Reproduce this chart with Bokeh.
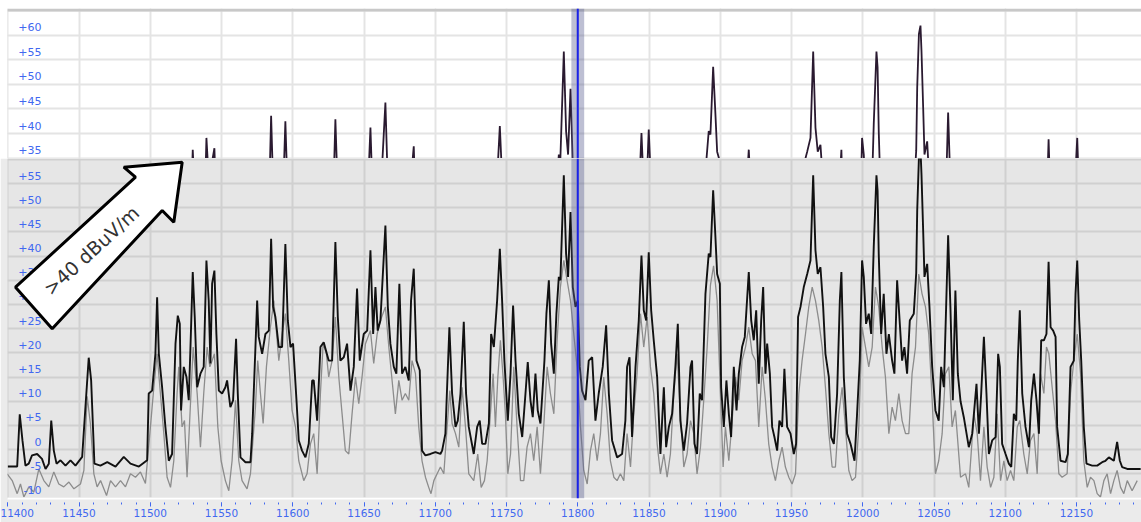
from bokeh.plotting import figure
from bokeh.models import (Range1d, Grid, SingleIntervalTicker, BoxAnnotation, Span,
                          PolyAnnotation, Label, ColumnDataSource)
from bokeh.layouts import column
from bokeh.embed import file_html
from bokeh.resources import INLINE

# ---------------- data (MHz, dBuV/m) ----------------
black_mhz = [11400.0, 11406.6, 11408.4, 11410.3, 11412.4, 11414.7, 11417.0, 11420.6, 11424.0, 11426.5,
             11428.8, 11430.5, 11432.3, 11434.2, 11437.0, 11440.5, 11444.0, 11447.5, 11452.2, 11454.5,
             11456.8, 11458.5, 11460.8, 11465.0, 11469.8, 11475.6, 11481.4, 11486.1, 11492.0, 11497.8,
             11498.9, 11501.3, 11503.6, 11504.8, 11506.0, 11508.3, 11510.6, 11513.0, 11515.3, 11517.7,
             11519.3, 11520.7, 11521.6, 11523.5, 11525.4, 11527.0, 11528.2, 11529.8, 11531.2, 11532.9,
             11535.2, 11537.5, 11539.4, 11541.0, 11542.2, 11543.4, 11545.0, 11546.4, 11548.1, 11550.4,
             11552.7, 11553.9, 11556.2, 11558.1, 11560.2, 11561.4, 11563.3, 11566.8, 11570.3, 11571.5,
             11573.8, 11575.0, 11576.1, 11578.5, 11580.8, 11583.2, 11584.8, 11586.2, 11587.8, 11590.2,
             11592.5, 11594.8, 11596.5, 11598.4, 11600.2, 11602.6, 11604.2, 11606.5, 11608.9, 11611.2,
             11613.6, 11614.7, 11617.1, 11619.4, 11621.7, 11625.2, 11627.6, 11629.9, 11631.6, 11633.4,
             11635.8, 11638.1, 11640.5, 11642.8, 11645.1, 11647.0, 11649.8, 11652.2, 11654.5, 11656.4,
             11658.0, 11659.6, 11661.5, 11665.0, 11666.7, 11668.5, 11670.9, 11672.7, 11674.8, 11676.7,
             11679.0, 11681.4, 11683.0, 11684.9, 11686.8, 11689.1, 11690.7, 11693.1, 11696.6, 11700.1,
             11703.6, 11704.8, 11707.1, 11708.3, 11709.9, 11711.8, 11714.2, 11715.8, 11717.7, 11720.0,
             11721.6, 11723.5, 11727.0, 11729.4, 11731.2, 11732.9, 11735.2, 11737.6, 11739.2, 11741.1,
             11743.4, 11745.3, 11746.9, 11748.5, 11750.9, 11752.8, 11754.6, 11756.3, 11758.6, 11761.0,
             11763.3, 11764.9, 11766.8, 11768.4, 11770.3, 11771.9, 11773.8, 11776.6, 11778.0, 11779.7,
             11781.3, 11783.2, 11785.0, 11786.7, 11787.8, 11790.2, 11791.8, 11793.2, 11794.9, 11796.5,
             11798.4, 11800.0, 11801.4, 11803.0, 11805.4, 11807.7, 11810.1, 11812.4, 11814.7, 11817.5,
             11819.9, 11821.8, 11824.1, 11827.6, 11831.1, 11833.4, 11834.6, 11836.3, 11838.1, 11840.5,
             11842.8, 11844.7, 11846.3, 11848.0, 11849.8, 11851.5, 11853.3, 11855.7, 11858.0, 11860.4,
             11862.0, 11863.9, 11866.2, 11868.5, 11870.2, 11872.0, 11874.4, 11876.7, 11879.1, 11880.2,
             11881.9, 11883.7, 11885.6, 11887.2, 11889.6, 11891.9, 11893.1, 11895.0, 11896.6, 11897.8,
             11899.7, 11900.6, 11902.5, 11904.3, 11906.0, 11907.6, 11909.5, 11911.4, 11913.0, 11915.3,
             11917.2, 11920.0, 11921.7, 11923.5, 11925.2, 11927.0, 11928.7, 11930.1, 11931.7, 11932.9,
             11934.8, 11936.4, 11938.0, 11939.9, 11941.5, 11943.4, 11945.0, 11946.9, 11949.3, 11951.6,
             11953.2, 11954.6, 11956.3, 11958.6, 11961.0, 11963.3, 11965.2, 11966.8, 11968.4, 11970.3,
             11972.2, 11973.8, 11976.2, 11977.8, 11979.7, 11982.0, 11983.9, 11985.0, 11986.7, 11989.0,
             11991.4, 11994.2, 11996.0, 11997.9, 11999.5, 12000.7, 12002.3, 12004.2, 12005.9, 12007.7,
             12009.6, 12010.4, 12011.2, 12012.9, 12014.7, 12016.6, 12018.3, 12020.6, 12022.2, 12024.1,
             12025.7, 12027.6, 12029.2, 12031.1, 12033.0, 12035.8, 12037.5, 12038.2, 12039.4, 12040.5,
             12041.2, 12042.4, 12043.3, 12045.2, 12046.8, 12048.7, 12051.0, 12053.3, 12055.0, 12056.9,
             12058.5, 12059.9, 12061.5, 12063.2, 12065.0, 12066.7, 12068.6, 12070.9, 12074.4, 12076.8,
             12079.8, 12081.5, 12083.1, 12085.0, 12086.8, 12088.5, 12090.8, 12093.2, 12095.0, 12096.2,
             12097.8, 12100.2, 12102.5, 12104.2, 12106.0, 12107.7, 12108.8, 12110.2, 12111.9, 12114.2,
             12116.6, 12118.2, 12120.1, 12121.9, 12123.6, 12125.2, 12127.1, 12128.9, 12130.4, 12131.8,
             12133.6, 12135.3, 12136.4, 12138.8, 12142.3, 12143.9, 12145.8, 12148.1, 12149.3, 12150.5,
             12151.9, 12153.3, 12155.1, 12157.0, 12161.0, 12164.5, 12168.0, 12170.3, 12172.7, 12176.2,
             12178.5, 12180.4, 12182.0, 12185.6, 12195.0]
black_db = [-3.5, -3.5, 7.3, 1.9, -3.3, -2.9, -1.2, -0.9, -1.9, -4.0,
            -2.9, 6.0, -0.2, -2.9, -2.2, -3.3, -2.2, -3.3, -1.5, 8.8,
            19.0, 14.3, -2.9, -3.3, -2.6, -3.5, -1.5, -2.9, -3.5, -2.2,
            11.6, 12.2, 19.8, 31.5, 19.8, 12.9, 4.7, -2.3, -0.9, 21.9,
            27.7, 26.0, 8.1, 17.1, 15.0, 10.2, 21.2, 36.7, 27.4, 12.9,
            15.7, 17.1, 39.1, 30.8, 17.8, 34.3, 37.0, 23.9, 12.2, 11.6,
            12.9, 14.3, 8.8, 10.2, 22.9, 11.6, -1.6, -2.6, -2.6, 3.3,
            21.2, 30.8, 23.3, 19.8, 23.9, 24.6, 43.6, 29.5, 27.4, 21.2,
            21.2, 42.5, 26.7, 21.2, 21.9, 10.2, 1.9, -0.2, -1.6, 1.2,
            14.3, 14.3, 6.0, 21.2, 22.2, 18.4, 18.4, 42.9, 27.4, 18.4,
            19.1, 21.9, 12.2, 17.1, 33.3, 18.4, 23.9, 24.6, 41.2, 23.9,
            33.6, 24.6, 26.7, 46.3, 29.5, 21.9, 17.1, 15.7, 34.3, 15.7,
            17.1, 14.3, 30.8, 37.4, 18.4, 16.4, -0.2, -1.2, -0.9, -0.5,
            -0.9, -0.2, 3.3, 12.9, 25.3, 11.6, 4.7, 6.0, 11.6, 26.4,
            11.6, 4.7, -0.9, 4.7, 6.0, 1.2, 1.2, 5.4, 23.9, 21.2,
            30.8, 41.5, 30.8, 18.4, 6.0, 15.7, 29.8, 18.4, 7.4, 2.6,
            11.6, 18.1, 10.2, 6.7, 15.7, 8.1, 5.4, 18.4, 28.1, 35.0,
            21.9, 15.7, 28.1, 35.7, 35.0, 56.7, 40.5, 35.7, 49.1, 33.6,
            29.5, 30.8, 17.1, 12.2, 10.2, 18.4, 19.1, 6.0, 11.6, 17.1,
            25.7, 11.6, 1.9, -1.6, -0.9, 6.0, 17.1, 19.1, 2.6, 17.1,
            26.7, 40.1, 28.8, 26.7, 40.8, 28.8, 22.6, 15.0, -0.9, 12.9,
            0.5, 4.7, 7.4, 17.1, 26.0, 6.0, -0.2, 5.4, 17.1, 18.4,
            1.2, -0.9, 11.6, 10.2, 32.2, 40.5, 39.8, 53.6, 43.9, 36.3,
            34.3, 12.9, 4.7, 14.3, 7.4, 2.6, 17.1, 8.1, 15.7, 21.2,
            23.3, 36.7, 26.7, 22.6, 28.8, 13.6, 26.7, 33.6, 15.7, 21.9,
            15.7, 4.7, 2.6, -0.2, 6.0, 4.7, 16.7, 4.7, 3.3, -0.9,
            1.2, 27.4, 29.5, 33.6, 36.3, 39.1, 56.7, 41.2, 36.3, 37.7,
            29.5, 19.8, 15.0, 2.6, 1.2, 11.6, 30.8, 36.7, 15.0, 3.3,
            1.2, -2.3, 7.4, 18.4, 39.1, 35.7, 26.0, 28.1, 23.9, 41.9,
            56.7, 53.5, 40.5, 23.9, 32.2, 19.8, 23.9, 18.4, 15.7, 35.0,
            27.4, 18.4, 21.2, 15.7, 26.7, 28.1, 36.5, 49.4, 60.3, 62.0,
            56.9, 45.1, 35.7, 38.4, 29.5, 17.1, 8.1, 6.0, 17.1, 12.9,
            29.5, 44.3, 29.5, 10.2, 32.9, 15.7, 10.0, 6.7, 0.5, 3.3,
            13.6, 3.3, 11.6, 23.3, 11.6, -0.9, 1.9, 2.6, 19.8, 17.1,
            1.2, -0.9, -2.9, -3.6, 7.4, 6.0, 18.4, 28.8, 11.6, 4.7,
            0.5, 10.2, 15.7, 10.2, 3.3, 22.6, 22.6, 23.9, 38.8, 25.3,
            24.6, 23.3, 4.7, -2.3, -2.6, -0.9, 17.1, 18.4, 32.2, 39.1,
            26.7, 18.4, 4.7, -2.9, -3.3, -3.3, -2.6, -2.3, -1.6, -2.3,
            1.6, -2.3, -3.6, -4.0, -4.0]

gray_mhz = [11399.6, 11403.1, 11406.6, 11408.9, 11411.3, 11414.8, 11418.3, 11421.8, 11425.3, 11428.8,
            11432.3, 11435.8, 11439.3, 11442.9, 11446.4, 11451.0, 11453.4, 11455.7, 11458.0, 11460.4,
            11462.7, 11465.1, 11469.3, 11472.1, 11475.6, 11479.1, 11482.6, 11486.1, 11489.6, 11493.1,
            11496.6, 11500.1, 11502.5, 11504.8, 11507.1, 11509.5, 11511.8, 11514.2, 11516.5, 11518.8,
            11520.0, 11522.3, 11524.0, 11525.8, 11528.2, 11530.1, 11532.9, 11535.2, 11537.5, 11539.9,
            11541.8, 11543.4, 11545.0, 11547.4, 11549.7, 11552.7, 11555.1, 11557.4, 11559.8, 11562.1,
            11564.4, 11567.9, 11570.3, 11573.8, 11575.4, 11577.3, 11579.2, 11581.5, 11584.3, 11586.7,
            11590.2, 11592.5, 11594.8, 11597.2, 11599.5, 11601.9, 11604.2, 11607.7, 11610.0, 11612.4,
            11614.7, 11617.1, 11619.4, 11621.3, 11623.6, 11625.2, 11627.6, 11629.9, 11632.3, 11634.6,
            11636.9, 11639.3, 11641.6, 11644.0, 11646.3, 11648.6, 11651.0, 11654.5, 11656.8, 11659.2,
            11661.5, 11665.0, 11667.4, 11669.7, 11672.0, 11674.4, 11676.7, 11679.0, 11681.4, 11683.7,
            11686.1, 11688.4, 11690.7, 11693.1, 11695.4, 11697.0, 11699.0, 11701.3, 11703.6, 11706.0,
            11708.3, 11710.2, 11711.8, 11714.2, 11716.5, 11718.8, 11721.2, 11723.5, 11727.0, 11729.8,
            11732.2, 11734.5, 11736.4, 11738.7, 11740.6, 11742.2, 11743.9, 11745.7, 11747.6, 11749.2,
            11750.9, 11752.8, 11755.1, 11757.4, 11759.8, 11762.1, 11764.4, 11766.8, 11769.1, 11771.5,
            11773.8, 11776.1, 11778.5, 11780.8, 11783.2, 11785.5, 11787.8, 11790.2, 11792.5, 11794.9,
            11797.2, 11799.5, 11801.9, 11804.2, 11806.6, 11808.9, 11811.2, 11813.6, 11815.9, 11818.2,
            11820.6, 11822.9, 11825.3, 11827.6, 11829.9, 11832.3, 11834.6, 11837.0, 11839.3, 11841.6,
            11844.0, 11846.3, 11848.7, 11851.0, 11853.3, 11855.7, 11858.0, 11860.4, 11862.7, 11865.0,
            11867.4, 11869.7, 11872.0, 11874.4, 11876.7, 11879.1, 11881.4, 11883.7, 11886.1, 11888.4,
            11890.8, 11893.1, 11895.3, 11897.8, 11900.1, 11902.0, 11903.6, 11906.0, 11908.3, 11910.7,
            11913.0, 11915.3, 11917.7, 11920.0, 11922.4, 11924.7, 11927.0, 11929.4, 11931.7, 11934.0,
            11936.4, 11938.7, 11941.1, 11943.4, 11945.7, 11948.1, 11950.4, 11952.8, 11955.1, 11957.4,
            11959.8, 11962.1, 11964.5, 11966.8, 11969.1, 11971.5, 11973.8, 11976.2, 11978.5, 11980.8,
            11983.2, 11985.5, 11987.8, 11990.2, 11992.5, 11994.9, 11997.2, 11999.5, 12001.9, 12004.2,
            12006.6, 12008.9, 12011.2, 12013.6, 12015.9, 12018.3, 12020.6, 12022.9, 12025.3, 12027.6,
            12030.0, 12032.3, 12034.6, 12037.0, 12039.3, 12041.6, 12044.0, 12046.3, 12048.7, 12051.0,
            12053.3, 12055.7, 12058.0, 12060.4, 12062.7, 12065.0, 12068.6, 12072.1, 12074.4, 12078.0,
            12080.3, 12082.6, 12085.0, 12087.3, 12089.7, 12092.0, 12094.3, 12096.7, 12099.0, 12101.3,
            12103.7, 12106.0, 12108.4, 12110.2, 12113.0, 12115.4, 12117.7, 12120.1, 12122.4, 12124.7,
            12127.1, 12128.9, 12130.6, 12132.9, 12135.3, 12137.6, 12139.9, 12143.4, 12145.8, 12148.1,
            12150.5, 12152.8, 12155.1, 12157.5, 12159.8, 12162.2, 12164.5, 12166.8, 12169.2, 12171.5,
            12173.9, 12176.2, 12178.5, 12180.9, 12183.2, 12185.6, 12189.0, 12192.6]
gray_db = [-5.0, -6.4, -9.1, -7.1, -9.8, -7.7, -8.8, -4.0, -6.4, -7.7,
           -4.6, -7.1, -7.7, -6.7, -8.1, -7.1, -4.3, 11.0, 5.3, -5.0,
           -7.7, -6.4, -9.5, -6.4, -7.7, -6.4, -7.7, -5.0, -5.7, -4.6,
           -7.0, 4.7, 12.9, 19.8, 11.6, 3.3, -5.7, -7.8, -2.3, 11.6,
           17.1, 4.7, 6.0, -5.7, 9.5, 21.2, 11.6, 0.5, 11.6, 21.2,
           17.1, 18.4, 19.8, 4.7, -2.3, -6.4, -8.5, -2.3, 10.2, -2.3,
           -6.4, -8.1, -5.0, 8.8, 18.4, 11.6, 5.4, 17.1, 25.3, 30.8,
           18.4, 23.9, 28.1, 18.4, 8.1, 4.7, -2.3, -6.4, -5.0, 1.2,
           3.3, -5.0, 11.6, 21.9, 19.8, 15.0, 18.4, 27.4, 15.0, 7.4,
           -0.2, -0.9, 7.4, 15.0, 9.5, 15.0, 21.9, 24.6, 17.8, 23.9,
           26.7, 29.5, 21.2, 14.3, 7.4, 14.3, 10.2, 11.6, 10.2, 18.4,
           15.7, 4.7, -2.3, -5.7, -7.8, -9.1, -6.4, -5.0, -3.6, -5.0,
           4.7, 12.2, 5.4, 3.3, 0.5, 12.9, 4.7, -5.0, -6.4, -0.9,
           -7.8, -6.4, -2.3, 7.4, 15.7, 4.7, 15.0, 22.6, 15.0, 7.4,
           -5.0, -0.9, 17.1, 4.7, -6.4, -6.4, 0.5, 3.3, -2.3, 4.7,
           -5.0, 4.7, 17.1, 11.6, 7.4, 22.6, 33.6, 39.1, 35.0, 30.8,
           23.9, 17.1, 4.7, -4.3, -7.1, -0.2, 3.3, -2.3, 3.3, 15.0,
           7.4, -2.3, -5.7, -6.4, -5.0, -6.4, 3.3, -3.6, 7.4, 15.7,
           28.1, 21.2, 27.4, 17.1, 11.6, 1.2, -5.0, -0.9, -5.7, -0.9,
           11.6, 19.8, 7.4, -3.6, -0.9, 6.0, 3.3, -5.0, 0.5, 10.2,
           21.2, 34.0, 38.0, 30.8, 11.6, -3.6, 4.7, -2.3, 6.0, 15.0,
           10.2, 18.4, 21.2, 25.3, 19.8, 18.4, 4.7, 17.1, 10.2, 1.2,
           -3.6, -6.4, -2.3, 0.5, -3.6, -5.7, -7.1, -5.0, 11.6, 18.4,
           23.9, 29.5, 33.6, 30.8, 26.7, 21.2, 12.9, 3.3, -3.6, -3.6,
           7.4, 12.9, 4.7, -4.3, -6.4, -5.7, 4.7, 25.3, 21.2, 17.1,
           21.2, 33.6, 29.5, 21.2, 15.0, 3.3, 8.8, 6.0, 11.6, 6.0,
           3.3, 3.3, 15.7, 21.2, 36.3, 32.2, 29.5, 23.9, 10.2, -5.0,
           -2.3, 3.3, 15.7, 17.1, 4.7, 8.1, -5.7, -5.0, -7.8, 7.4,
           3.3, -6.4, 4.7, -3.6, -7.8, -5.7, 7.4, -6.4, -2.3, -6.4,
           -4.3, -6.4, 4.7, 6.0, -0.9, -5.0, 1.9, 3.3, -5.0, 15.7,
           11.6, 21.2, 19.8, 12.9, 6.0, -5.0, -5.7, -5.0, 11.6, 18.4,
           23.9, 15.7, -2.3, -7.8, -5.7, -6.4, -9.1, -9.8, -6.4, -5.0,
           -9.1, -6.4, -4.3, -7.8, -9.1, -6.4, -8.5, -6.4]

top_ticks = [60, 55, 50, 45, 40, 35]
bottom_ticks = [55, 50, 45, 40, 35, 30, 25, 20, 15, 10, 5, 0, -5, -10]
marker_mhz = 11800
marker_halfwidth = 4.5
annotation_text = ">40 dBuV/m"


def tick_text(v):
    return "+%d" % v if v > 0 else "%d" % v


BLUE = "#4168f0"
FONT = "DejaVu Sans"
W = 1141

x_range = Range1d(11399.8, 12195.6)
src_b = ColumnDataSource(dict(f=black_mhz, db=black_db))
src_g = ColumnDataSource(dict(f=gray_mhz, db=gray_db))

# ---------------- top panel (values above 35) ----------------
top = figure(width=W, height=158, x_range=x_range, y_range=Range1d(34.9, 65.5),
             output_backend="svg", toolbar_location=None,
             x_axis_location=None, y_axis_location=None,
             min_border_left=7, min_border_right=0, min_border_bottom=0, min_border_top=8,
             border_fill_color="#ffffff", background_fill_color="#ffffff",
             outline_line_color=None)
top.add_layout(Grid(dimension=0, ticker=SingleIntervalTicker(interval=50),
                    grid_line_color="#e4e4e4", grid_line_width=2))
top.add_layout(Grid(dimension=1, ticker=SingleIntervalTicker(interval=5),
                    grid_line_color="#e4e4e4", grid_line_width=2))
top.add_layout(BoxAnnotation(bottom=147, bottom_units="screen", fill_color="#c8c8c8",
                             fill_alpha=1.0, line_color=None))
top.add_layout(BoxAnnotation(left=marker_mhz - marker_halfwidth, right=marker_mhz + marker_halfwidth,
                             fill_color="#5a6090", fill_alpha=0.4, line_color=None))
top.line("f", "db", source=src_b, line_color="#2a1a30", line_width=1.8)
top.add_layout(Span(location=marker_mhz, dimension="height", line_color="#1a22e8", line_width=2))
for t in top_ticks:
    top.add_layout(Label(x=34, x_units="screen", y=t, y_units="data", y_offset=8,
                         text=tick_text(t), text_align="right", text_baseline="middle",
                         text_font=FONT, text_font_size="11px", text_color=BLUE))

# ---------------- bottom panel ----------------
bot = figure(width=W, height=364, x_range=x_range, y_range=Range1d(-10.1, 60.17),
             output_backend="svg", toolbar_location=None, y_axis_location=None,
             min_border_left=7, min_border_right=0, min_border_bottom=24, min_border_top=0,
             border_fill_color="#ebebeb", background_fill_color="#e6e6e6",
             outline_line_color=None)
bot.xaxis.ticker = SingleIntervalTicker(interval=50, num_minor_ticks=5)
bot.xaxis.axis_line_color = "#ffffff"
bot.xaxis.axis_line_width = 2
bot.xaxis.major_tick_line_color = BLUE
bot.xaxis.minor_tick_line_color = BLUE
bot.xaxis.major_tick_in = -4
bot.xaxis.major_tick_out = 8
bot.xaxis.minor_tick_in = -4
bot.xaxis.minor_tick_out = 6
bot.xaxis.major_label_standoff = 2
bot.xaxis.major_label_text_color = BLUE
bot.xaxis.major_label_text_font = FONT
bot.xaxis.major_label_text_font_size = "10.5px"
bot.xgrid.grid_line_color = "#d0d0d0"
bot.xgrid.grid_line_width = 2
bot.add_layout(Grid(dimension=1, ticker=SingleIntervalTicker(interval=5),
                    grid_line_color="#d0d0d0", grid_line_width=2))
bot.add_layout(BoxAnnotation(left=marker_mhz - marker_halfwidth, right=marker_mhz + marker_halfwidth,
                             fill_color="#5a6090", fill_alpha=0.4, line_color=None))
bot.line("f", "db", source=src_g, line_color="#8c8c8c", line_width=1.3)
bot.line("f", "db", source=src_b, line_color="#111111", line_width=1.9)
bot.add_layout(Span(location=marker_mhz, dimension="height", line_color="#1a22e8", line_width=2))
for t in bottom_ticks:
    bot.add_layout(Label(x=34, x_units="screen", y=t, y_units="data", y_offset=8,
                         text=tick_text(t), text_align="right", text_baseline="middle",
                         text_font=FONT, text_font_size="11px", text_color=BLUE))

# arrow call-out (screen units: frame-relative, y measured upward from the frame bottom)
bot.add_layout(PolyAnnotation(xs=[174.7, 116.3, 128.0, 8.0, 44.7, 154.7, 166.3],
                              ys=[336.3, 331.3, 321.3, 211.3, 169.7, 288.0, 276.3],
                              xs_units="screen", ys_units="screen",
                              fill_color="#ffffff", fill_alpha=1.0,
                              line_color="#000000", line_alpha=1.0, line_width=3))
bot.add_layout(Label(x=83.8, y=248, x_units="screen", y_units="screen", angle=0.74,
                     text=annotation_text, text_align="center", text_baseline="middle",
                     text_font=FONT, text_font_size="19px", text_color="#333333"))

layout = column(top, bot, spacing=0)
open("out.html", "w").write(file_html(layout, INLINE))
